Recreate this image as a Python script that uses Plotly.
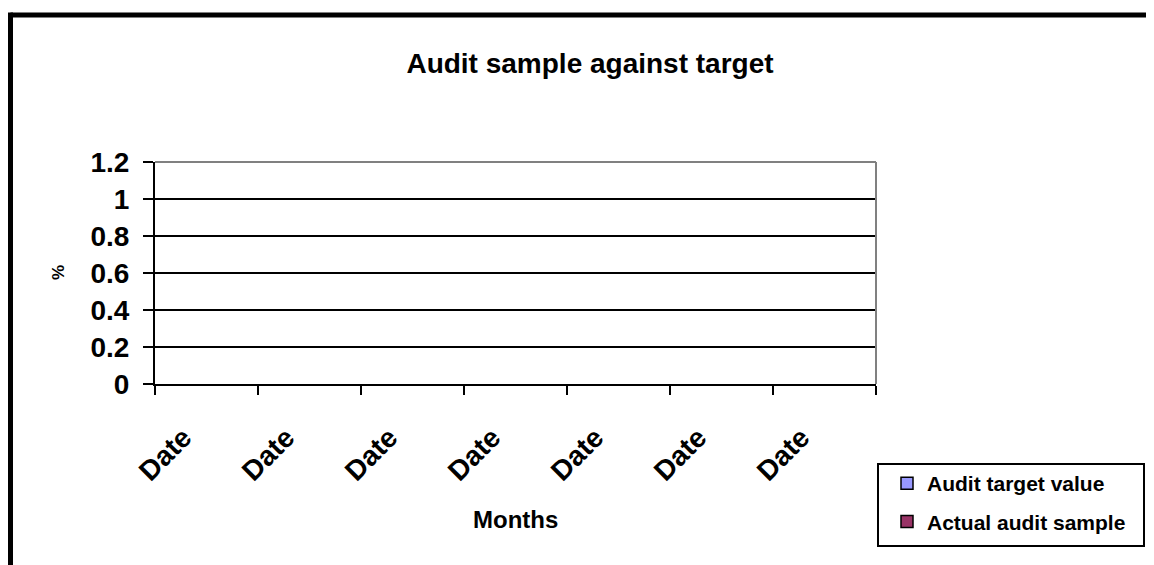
import plotly.graph_objects as go

categories = ["Date", "Date", "Date", "Date", "Date", "Date", "Date"]
audit_target = [None, None, None, None, None, None, None]
actual_sample = [None, None, None, None, None, None, None]
y_ticks = [0, 0.2, 0.4, 0.6, 0.8, 1, 1.2]
y_ticktext = ["0", "0.2", "0.4", "0.6", "0.8", "1", "1.2"]

FONT = "Arial, Liberation Sans, sans-serif"
OFF = 8  # page body margin
W, H = 1154 - 2 * OFF, 565 - OFF
L, R, T, B = 155 - OFF, 876 - OFF, 162 - OFF, 384 - OFF


def px_x(p):
    """reference-screen pixel x -> paper fraction"""
    return (p - OFF - L) / (R - L)


def px_y(p):
    return (B - (p - OFF)) / (B - T)


xpos = list(range(len(categories)))

fig = go.Figure()
fig.add_trace(go.Bar(x=xpos, y=audit_target, name="<b>Audit target value</b>",
                     marker=dict(color="#9999FF", line=dict(color="black", width=1.5)),
                     legendgroup="a"))
fig.add_trace(go.Bar(x=xpos, y=actual_sample, name="<b>Actual audit sample</b>",
                     marker=dict(color="#993366", line=dict(color="black", width=1.5)),
                     legendgroup="b"))

shapes = [
    # chart outer border (top and left visible)
    dict(type="line", xref="paper", yref="paper", x0=px_x(10.5), x1=px_x(1300),
         y0=px_y(15), y1=px_y(15), line=dict(color="black", width=5)),
    dict(type="line", xref="paper", yref="paper", x0=px_x(10.5), x1=px_x(10.5),
         y0=px_y(12.5), y1=px_y(700), line=dict(color="black", width=5)),
    # plot area border top/right (grey)
    dict(type="line", xref="paper", yref="paper", x0=0, x1=1, y0=1, y1=1,
         line=dict(color="#808080", width=2)),
    dict(type="line", xref="paper", yref="paper", x0=1, x1=1, y0=0, y1=1,
         line=dict(color="#808080", width=2)),
    # legend frame
    dict(type="rect", xref="paper", yref="paper", x0=px_x(878), x1=px_x(1144),
         y0=px_y(546), y1=px_y(464), line=dict(color="black", width=2),
         fillcolor="rgba(0,0,0,0)", layer="below"),
]

fig.update_layout(
    width=W, height=H,
    margin=dict(l=L, r=W - R, t=T, b=H - B, pad=0, autoexpand=False),
    paper_bgcolor="white", plot_bgcolor="white",
    font=dict(family=FONT, color="black"),
    title=dict(text="<b>Audit sample against target</b>", font=dict(size=28, family=FONT),
               xref="container", yref="container", x=(590 - OFF) / W, y=1 - (63 - OFF) / H,
               xanchor="center", yanchor="middle"),
    barmode="group",
    showlegend=True,
    legend=dict(xref="container", yref="container", x=(887 - OFF) / W, y=1 - (463 - OFF) / H,
                xanchor="left", yanchor="top", bgcolor="rgba(0,0,0,0)",
                borderwidth=0,
                font=dict(size=21, family=FONT), tracegroupgap=8,
                traceorder="grouped"),
    xaxis=dict(range=[-0.5, len(categories) - 0.5], tickmode="array",
               tickvals=xpos, ticktext=["<b>%s</b>" % c for c in categories],
               tickangle=-45, ticks="", showgrid=False, zeroline=False,
               showline=True, linecolor="black", linewidth=2,
               tickfont=dict(size=28, family=FONT),
               ticklabelstandoff=24, ticklabelshift=-23,
               minor=dict(tick0=-0.5, dtick=1, ticks="outside", ticklen=9,
                          tickwidth=2, tickcolor="black", showgrid=False),
               fixedrange=True),
    yaxis=dict(range=[0, 1.2], tickmode="array", tickvals=y_ticks,
               ticktext=["<b>%s</b>" % t for t in y_ticktext],
               ticks="outside", ticklen=10, tickwidth=2, tickcolor="black",
               showgrid=True, gridcolor="black", gridwidth=2,
               zeroline=False, showline=True, linecolor="black", linewidth=2,
               tickfont=dict(size=28, family=FONT), ticklabelstandoff=8,
               fixedrange=True),
    shapes=shapes,
    annotations=[
        dict(text="<b>Months</b>", xref="paper", yref="paper", x=px_x(515), y=px_y(519),
             xanchor="center", yanchor="middle", showarrow=False,
             font=dict(size=24, family=FONT)),
        dict(text="<b>%</b>", xref="paper", yref="paper", x=px_x(58), y=px_y(273),
             xanchor="center", yanchor="middle", showarrow=False, textangle=-90,
             font=dict(size=17, family=FONT)),
    ],
)

fig.write_html("out.html", config={"displayModeBar": False})
